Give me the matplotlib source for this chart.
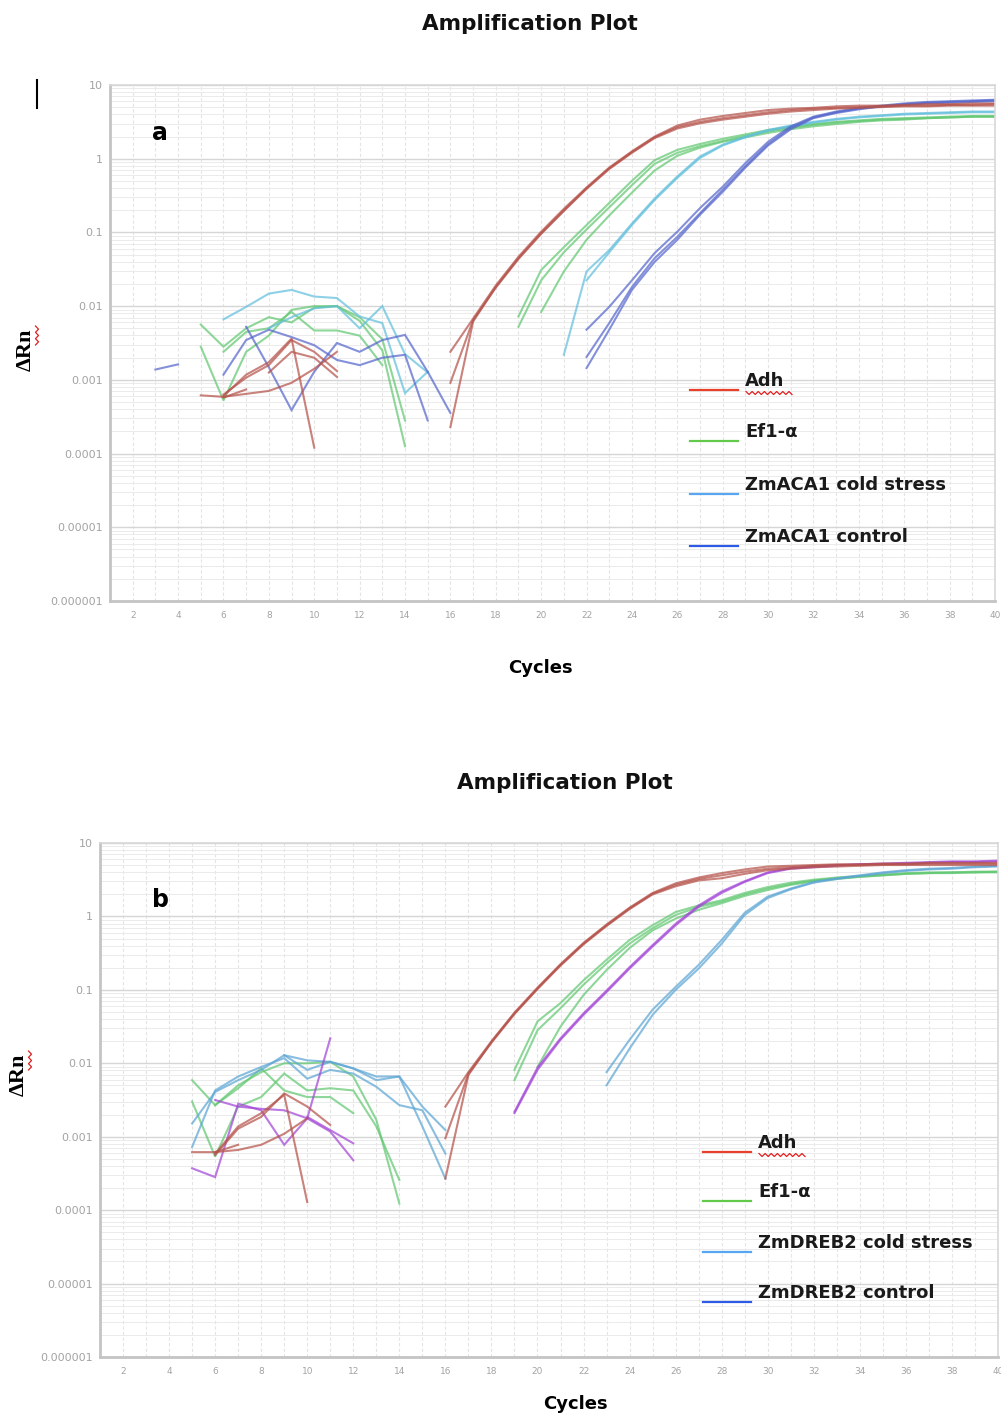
import numpy as np
from matplotlib import pyplot as plt
from matplotlib.lines import Line2D
from matplotlib.ticker import LogLocator, NullFormatter

# log10(delta Rn), (first cycle, values)
# ---------------- panel a ----------------
a_adh = [
    (16, [-2.62, -2.17, -1.72, -1.33, -0.99, -0.68, -0.39, -0.12, 0.10, 0.30, 0.45, 0.53, 0.58,
          0.62, 0.66, 0.68, 0.69, 0.71, 0.72, 0.72, 0.73, 0.74, 0.74, 0.75, 0.75]),
    (16, [-3.04, -2.19, -1.75, -1.36, -1.02, -0.71, -0.41, -0.14, 0.08, 0.28, 0.41, 0.48, 0.53,
          0.57, 0.61, 0.64, 0.66, 0.68, 0.69, 0.70, 0.71, 0.71, 0.72, 0.72, 0.72]),
    (16, [-3.64, -2.21, -1.74, -1.35, -1.01, -0.70, -0.40, -0.13, 0.09, 0.29, 0.43, 0.50, 0.55,
          0.59, 0.63, 0.66, 0.68, 0.69, 0.70, 0.71, 0.72, 0.72, 0.73, 0.73, 0.74]),
    (5, [-3.21, -3.23, -3.19, -3.15, -3.04, -2.85, -2.62]),
    (6, [-3.22, -2.93, -2.76, -2.44, -3.92]),
    (6, [-3.20, -2.97, -2.80, -2.46, -2.62, -2.88]),
    (6, [-3.24, -3.13]),
    (8, [-2.90, -2.62, -2.70, -2.96]),
]
a_ef1 = [
    (19, [-2.14, -1.51, -1.20, -0.90, -0.60, -0.30, -0.02, 0.12, 0.20, 0.27, 0.33, 0.39, 0.43,
          0.47, 0.50, 0.52, 0.54, 0.55, 0.56, 0.57, 0.58, 0.58]),
    (19, [-2.28, -1.65, -1.27, -0.96, -0.66, -0.36, -0.07, 0.08, 0.17, 0.24, 0.31, 0.37, 0.42,
          0.46, 0.49, 0.51, 0.53, 0.54, 0.55, 0.56, 0.57, 0.57]),
    (20, [-2.08, -1.53, -1.10, -0.77, -0.46, -0.16, 0.04, 0.15, 0.23, 0.29, 0.35, 0.40, 0.44,
          0.47, 0.50, 0.52, 0.53, 0.55, 0.56, 0.57, 0.57]),
    (5, [-2.25, -2.55, -2.30, -2.15, -2.22, -2.02, -2.00, -2.15, -2.45, -3.55]),
    (5, [-2.55, -3.28, -2.62, -2.40, -2.05, -2.00, -2.00, -2.20, -2.60, -3.90]),
    (6, [-2.62, -2.35, -2.30, -2.08, -2.33, -2.33, -2.40, -2.80]),
]
a_cold = [
    (21, [-2.66, -1.53, -1.24, -0.88, -0.54, -0.24, 0.03, 0.19, 0.30, 0.39, 0.45, 0.50, 0.54,
          0.57, 0.59, 0.61, 0.62, 0.63, 0.64, 0.64]),
    (22, [-1.65, -1.27, -0.90, -0.56, -0.26, 0.01, 0.18, 0.29, 0.38, 0.44, 0.49, 0.53, 0.56,
          0.58, 0.60, 0.61, 0.62, 0.63, 0.63]),
    (6, [-2.18, -2.01, -1.83, -1.78, -1.87, -1.89, -2.14, -2.23, -3.18, -2.89]),
    (8, [-2.30, -2.15, -2.03, -2.00, -2.30, -2.00, -2.65, -2.90]),
]
a_ctrl = [
    (22, [-2.32, -2.01, -1.65, -1.28, -0.99, -0.67, -0.38, -0.06, 0.23, 0.44, 0.57, 0.64, 0.69,
          0.72, 0.75, 0.77, 0.78, 0.79, 0.80]),
    (22, [-2.69, -2.23, -1.74, -1.35, -1.06, -0.74, -0.42, -0.10, 0.20, 0.42, 0.56, 0.63, 0.68,
          0.71, 0.74, 0.76, 0.77, 0.78, 0.79]),
    (22, [-2.84, -2.32, -1.78, -1.40, -1.10, -0.76, -0.45, -0.12, 0.18, 0.40, 0.55, 0.62, 0.67,
          0.71, 0.73, 0.75, 0.76, 0.77, 0.78]),
    (3, [-2.86, -2.79]),
    (6, [-2.93, -2.46, -2.32, -2.42, -2.53, -2.73, -2.80, -2.70, -2.66, -3.55]),
    (7, [-2.28, -2.83, -3.41, -2.89, -2.50, -2.62, -2.46, -2.39, -2.89, -3.45]),
]

# ---------------- panel b ----------------
b_adh = [
    (16, [-2.59, -2.12, -1.70, -1.31, -0.97, -0.65, -0.36, -0.11, 0.12, 0.32, 0.45, 0.53, 0.59,
          0.64, 0.68, 0.69, 0.70, 0.71, 0.71, 0.72, 0.72, 0.73, 0.73, 0.73, 0.73]),
    (16, [-3.02, -2.14, -1.72, -1.33, -0.99, -0.67, -0.38, -0.13, 0.10, 0.30, 0.41, 0.49, 0.52,
          0.58, 0.63, 0.65, 0.67, 0.68, 0.69, 0.70, 0.70, 0.70, 0.70, 0.70, 0.70]),
    (16, [-3.57, -2.16, -1.71, -1.32, -0.98, -0.66, -0.37, -0.12, 0.11, 0.31, 0.43, 0.51, 0.56,
          0.61, 0.65, 0.67, 0.69, 0.70, 0.70, 0.71, 0.71, 0.72, 0.72, 0.72, 0.72]),
    (5, [-3.21, -3.21, -3.18, -3.11, -2.96, -2.75]),
    (6, [-3.25, -2.89, -2.73, -2.41, -2.59, -2.84]),
    (6, [-3.23, -2.86, -2.68, -2.43, -3.89]),
    (6, [-3.21, -3.11]),
]
b_ef1 = [
    (19, [-2.09, -1.43, -1.18, -0.87, -0.59, -0.32, -0.12, 0.06, 0.15, 0.22, 0.32, 0.40, 0.46,
          0.50, 0.53, 0.55, 0.57, 0.59, 0.60, 0.60, 0.61, 0.61]),
    (19, [-2.23, -1.55, -1.25, -0.93, -0.64, -0.37, -0.16, 0.02, 0.13, 0.20, 0.30, 0.38, 0.44,
          0.49, 0.52, 0.54, 0.56, 0.58, 0.59, 0.60, 0.60, 0.61]),
    (20, [-2.05, -1.50, -1.07, -0.73, -0.43, -0.19, -0.03, 0.09, 0.18, 0.28, 0.36, 0.43, 0.48,
          0.51, 0.54, 0.56, 0.58, 0.59, 0.59, 0.60, 0.60]),
    (5, [-2.23, -2.57, -2.34, -2.07, -2.37, -2.46, -2.46, -2.68]),
    (5, [-2.52, -3.27, -2.59, -2.46, -2.14, -2.37, -2.34, -2.37, -2.86, -3.59]),
    (6, [-2.57, -2.30, -2.12, -2.00, -2.00, -1.98, -2.18, -2.77, -3.91]),
]
b_cold = [
    (23, [-2.12, -1.68, -1.27, -0.96, -0.66, -0.32, 0.05, 0.27, 0.38, 0.47, 0.52, 0.56, 0.60,
          0.63, 0.65, 0.66, 0.68, 0.69]),
    (23, [-2.30, -1.80, -1.34, -1.00, -0.71, -0.37, 0.02, 0.25, 0.37, 0.46, 0.51, 0.55, 0.59,
          0.62, 0.64, 0.65, 0.67, 0.68]),
    (5, [-2.82, -2.39, -2.23, -2.09, -1.89, -1.96, -1.98, -2.07, -2.18, -2.18, -2.59, -2.91]),
    (5, [-3.14, -2.37, -2.18, -2.05, -1.93, -2.21, -2.09, -2.14, -2.32, -2.57, -2.64, -3.23]),
    (9, [-1.89, -2.09, -1.98, -2.07, -2.23, -2.18, -2.86, -3.57]),
]
b_ctrl = [
    (19, [-2.68, -2.09, -1.68, -1.34, -1.03, -0.71, -0.41, -0.12, 0.13, 0.32, 0.47, 0.59, 0.65,
          0.67, 0.69, 0.71, 0.71, 0.72, 0.73, 0.74, 0.74, 0.75]),
    (19, [-2.66, -2.06, -1.66, -1.32, -1.01, -0.69, -0.39, -0.10, 0.15, 0.34, 0.48, 0.60, 0.66,
          0.68, 0.70, 0.71, 0.72, 0.73, 0.74, 0.75, 0.75, 0.76]),
    (5, [-3.43, -3.55, -2.55, -2.64, -3.11, -2.75, -1.66]),
    (6, [-2.50, -2.59, -2.62, -2.64, -2.75, -2.93, -3.32]),
    (10, [-2.73, -2.91, -3.09]),
]

y_ticks = [1e-6, 1e-5, 1e-4, 1e-3, 1e-2, 1e-1, 1, 10]
y_labels = ['0.000001', '0.00001', '0.0001', '0.001', '0.01', '0.1', '1', '10']
x_ticks = list(range(2, 41, 2))

legend_a = ['Adh', 'Ef1-\u03b1', 'ZmACA1 cold stress', 'ZmACA1 control']
legend_b = ['Adh', 'Ef1-\u03b1', 'ZmDREB2 cold stress', 'ZmDREB2 control']
legend_colors = ['#e8402a', '#62c94a', '#58a6f0', '#2e5be6']

W, H = 1001, 1416


def fx(px):
    return px / W


def fy(py):
    return 1 - py / H


def plot_group(ax, group, color):
    for start, logs in group:
        cyc = np.arange(start, start + len(logs))
        ax.plot(cyc, 10.0 ** np.array(logs), color=color, lw=1.5, alpha=0.72,
                solid_joinstyle='miter')


def style_axes(ax):
    ax.set_yscale('log')
    ax.set_xlim(1, 40)
    ax.set_ylim(1e-6, 10)
    ax.set_yticks(y_ticks)
    ax.set_yticklabels(y_labels, fontsize=8, color='#a3a3a3')
    ax.yaxis.set_minor_locator(LogLocator(base=10, subs=np.arange(2, 10), numticks=20))
    ax.yaxis.set_minor_formatter(NullFormatter())
    ax.set_xticks(x_ticks)
    ax.set_xticklabels([str(t) for t in x_ticks], fontsize=6.5, color='#a3a3a3')
    ax.set_xticks(range(1, 41), minor=True)
    ax.tick_params(which='both', length=0)
    ax.tick_params(axis='x', pad=7)
    ax.tick_params(axis='y', pad=5)
    ax.yaxis.grid(True, which='major', color='#d6d6d6', lw=1.0)
    ax.yaxis.grid(True, which='minor', color='#ebebeb', lw=0.7)
    ax.xaxis.grid(True, which='both', color='#e4e4e4', lw=0.8, ls=(0, (3, 2)))
    ax.set_axisbelow(True)
    for s in ['left', 'bottom']:
        ax.spines[s].set_color('#c4c4c4')
        ax.spines[s].set_linewidth(2)
    for s in ['top', 'right']:
        ax.spines[s].set_color('#d8d8d8')
        ax.spines[s].set_linewidth(1.2)


def squiggle(fig, x0, x1, y, vertical=False):
    n = int(abs(x1 - x0) / 3)
    t = np.linspace(x0, x1, n + 1)
    off = np.where(np.arange(n + 1) % 2 == 0, -1.5, 1.5)
    if vertical:
        fig.add_artist(Line2D([fx(y + o) for o in off], [fy(v) for v in t], color='#e02020', lw=0.9))
    else:
        fig.add_artist(Line2D([fx(v) for v in t], [fy(y + o) for o in off], color='#e02020', lw=0.9))


def draw_legend(fig, labels, x_line, x_text, ys):
    for lab, col, y in zip(labels, legend_colors, ys):
        fig.add_artist(Line2D([fx(x_line), fx(x_line + 48)], [fy(y + 9), fy(y + 9)],
                              color=col, lw=1.6))
        fig.text(fx(x_text), fy(y), lab, fontsize=13, fontweight='bold', color='#1a1a1a',
                 ha='left', va='center')


fig = plt.figure(figsize=(W / 100, H / 100), dpi=100)

# panel a
ax1 = fig.add_axes([fx(110), fy(601), (995 - 110) / W, (601 - 85) / H])
style_axes(ax1)
plot_group(ax1, a_ef1, '#62c872')
plot_group(ax1, a_cold, '#62bfdc')
plot_group(ax1, a_ctrl, '#5566cc')
plot_group(ax1, a_adh, '#b5524a')

# panel b
ax2 = fig.add_axes([fx(100), fy(1357), (998 - 100) / W, (1357 - 843) / H])
style_axes(ax2)
plot_group(ax2, b_ef1, '#62c872')
plot_group(ax2, b_cold, '#5ca6d4')
plot_group(ax2, b_ctrl, '#a346d6')
plot_group(ax2, b_adh, '#b5524a')

# titles and labels
title_kw = dict(fontsize=15.5, fontweight='bold', ha='center', va='center', color='#111111')
fig.text(fx(530), fy(24), 'Amplification Plot', **title_kw)
fig.text(fx(565), fy(783), 'Amplification Plot', **title_kw)
fig.text(fx(540), fy(668), 'Cycles', fontsize=13, fontweight='bold', ha='center', va='center')
fig.text(fx(575), fy(1404), 'Cycles', fontsize=13, fontweight='bold', ha='center', va='center')
rn_kw = dict(fontsize=16, fontweight='bold', rotation=90, ha='center', va='center',
             family='Liberation Serif')
fig.text(fx(26), fy(350), '\u0394Rn', **rn_kw)
fig.text(fx(19), fy(1075), '\u0394Rn', **rn_kw)
squiggle(fig, 345, 326, 37, vertical=True)
squiggle(fig, 1070, 1051, 30, vertical=True)
fig.text(fx(160), fy(133), 'a', fontsize=17, fontweight='bold', ha='center', va='center')
fig.text(fx(160), fy(900), 'b', fontsize=17, fontweight='bold', ha='center', va='center')

draw_legend(fig, legend_a, 690, 745, [381, 432, 485, 537])
draw_legend(fig, legend_b, 703, 758, [1143, 1192, 1243, 1293])
squiggle(fig, 746, 792, 393)
squiggle(fig, 759, 805, 1155)

# stray text cursor in the original figure
fig.add_artist(Line2D([fx(37), fx(37)], [fy(80), fy(108)], color='black', lw=1.5))

fig.savefig('out.png', dpi=100)
